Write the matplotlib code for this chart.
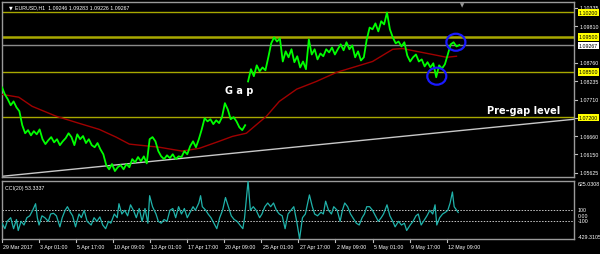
import numpy as np
import matplotlib
matplotlib.use("Agg")
import matplotlib.pyplot as plt
from matplotlib.patches import Ellipse
import matplotlib.transforms as mtransforms

plt.rcParams["font.family"] = ["Liberation Sans", "DejaVu Sans"]

# ---------------- data (hourly bars, index 0 = 29 Mar 2017) ----------------
step = 5
pre_gap_start = 0
pre_gap = [1.0806, 1.0786, 1.0772, 1.0755, 1.0766, 1.0749, 1.0738, 1.0698, 1.0675, 1.0684,
           1.0669, 1.0681, 1.0672, 1.0686, 1.0658, 1.0644, 1.0655, 1.0664, 1.0649, 1.0658,
           1.0641, 1.0652, 1.0661, 1.0675, 1.0664, 1.0641, 1.0672, 1.0658, 1.0667, 1.0647,
           1.0658, 1.0641, 1.0635, 1.0647, 1.0629, 1.0615, 1.0584, 1.0572, 1.0587, 1.0567,
           1.0578, 1.0584, 1.0572, 1.0587, 1.0578, 1.0601, 1.0592, 1.0607, 1.0595, 1.0609,
           1.0589, 1.0658, 1.0664, 1.0652, 1.0624, 1.0609, 1.0601, 1.0612, 1.0604, 1.0615,
           1.0601, 1.0609, 1.0607, 1.0624, 1.0615, 1.0638, 1.0652, 1.0635, 1.0658, 1.0686,
           1.0718, 1.0709, 1.0715, 1.0701, 1.0712, 1.0704, 1.0721, 1.0761, 1.0743, 1.0715,
           1.0721, 1.0709, 1.0692, 1.0684, 1.0698]
post_gap_start = 425
post_gap = [1.0823, 1.0858, 1.0838, 1.0869, 1.0852, 1.0863, 1.0855, 1.0892, 1.0932, 1.0949,
            1.0937, 1.0946, 1.0880, 1.0909, 1.0892, 1.0915, 1.0878, 1.0895, 1.0863, 1.0880,
            1.0858, 1.0943, 1.0900, 1.0915, 1.0886, 1.0903, 1.0895, 1.0915, 1.0906, 1.0920,
            1.0900, 1.0915, 1.0929, 1.0912, 1.0935, 1.0915, 1.0926, 1.0892, 1.0909, 1.0883,
            1.0892, 1.0943, 1.0977, 1.0972, 1.0989, 1.0966, 1.0995, 1.0986, 1.1020, 1.0972,
            1.0949, 1.0932, 1.0937, 1.0923, 1.0935, 1.0897, 1.0880, 1.0892, 1.0900, 1.0880,
            1.0886, 1.0866, 1.0878, 1.0863, 1.0875, 1.0835, 1.0869, 1.0860, 1.0872, 1.0900,
            1.0929, 1.0935, 1.0923, 1.0927]

ma_bars = [0, 29, 52, 93, 128, 168, 197, 220, 237, 272, 311, 341, 375, 398, 422, 457,
           479, 509, 543, 578, 612, 640, 675, 692, 716, 744, 768, 785]
ma_vals = [1.0786, 1.0778, 1.0752, 1.0724, 1.0706, 1.0686, 1.0664, 1.0644, 1.0641, 1.0635,
           1.0624, 1.0632, 1.0652, 1.0666, 1.0675, 1.0724, 1.0766, 1.0801, 1.0823, 1.0849,
           1.0866, 1.0880, 1.0915, 1.0917, 1.0909, 1.0900, 1.0892, 1.0895]

trend_bars = [0, 988]
trend_vals = [1.0552, 1.0715]

levels = [1.10200, 1.09500, 1.08500, 1.07200]
level_widths = [1.0, 1.8, 1.0, 1.0]
last_price = 1.09267
price_ticks = [1.10335, 1.09810, 1.08760, 1.08235, 1.07710, 1.07185, 1.06660, 1.06150, 1.05625]

cci_bars = [0, 5, 9, 15, 20, 25, 28, 33, 38, 43, 48, 53, 58, 61, 64, 69, 74, 80, 84, 89,
            94, 100, 104, 109, 113, 118, 122, 127, 133, 137, 142, 147, 154, 159, 164, 169,
            174, 179, 184, 188, 194, 199, 202, 207, 212, 217, 222, 227, 232, 237, 242, 247,
            252, 255, 260, 266, 270, 275, 280, 285, 290, 295, 300, 305, 310, 315, 320, 325,
            330, 334, 340, 343, 346, 352, 356, 361, 366, 371, 376, 381, 386, 391, 396, 401,
            406, 411, 416, 419, 425, 429, 434, 439, 445, 449, 454, 459, 464, 469, 474, 479,
            484, 489, 494, 499, 504, 509, 514, 519, 524, 531, 536, 540, 545, 551, 555, 559,
            564, 569, 573, 579, 584, 588, 592, 597, 602, 606, 612, 617, 622, 626, 630, 635,
            640, 645, 650, 655, 659, 665, 670, 675, 679, 685, 690, 695, 699, 705, 710, 715,
            719, 724, 730, 734, 739, 744, 748, 751, 756, 761, 766, 770, 774, 778, 781, 788]
cci_vals = [-142, -242, -108, -42, -242, -75, -275, -108, -175, -42, -8, 92, 212, -42, -175,
            -8, -42, -108, 25, 38, -8, -208, -42, 92, 158, 58, -8, -208, 25, -42, 92, -108,
            -175, -42, -108, -28, -175, -242, -108, -142, 25, -42, 212, 25, 92, -8, 192, 92,
            -42, 125, -108, 125, -142, 358, 158, 25, -108, -142, -75, -108, 92, 125, -42, 158,
            25, 125, -42, 58, 158, 92, 225, 358, 158, 92, 25, -42, -142, -242, -42, 92, 325,
            158, -8, -75, -108, -175, -242, -42, 625, 92, 158, 92, -42, 25, 158, 225, 158, 225,
            92, 25, -8, -242, 25, 92, 158, -108, -428, -42, 25, 372, 158, 25, -8, 58, 25, 258,
            92, 25, 158, 92, -108, 92, 225, 158, 25, -42, -142, -175, -42, 25, 158, 158, 92,
            -8, -108, -42, 25, 192, -8, -108, -208, -108, -175, -142, -275, -175, -108, -8, 25,
            -175, -75, -8, 92, 25, 192, -175, -42, 25, 58, 92, 225, 425, 158, 53.3337]
cci_levels = [100, -100]
cci_min, cci_max = -429.3105, 625.0308

date_ticks = [0, 64, 128, 192, 256, 320, 384, 448, 512, 576, 640, 704, 768]
date_labels = ["29 Mar 2017", "3 Apr 01:00", "5 Apr 17:00", "10 Apr 09:00", "13 Apr 01:00",
               "17 Apr 17:00", "20 Apr 09:00", "25 Apr 01:00", "27 Apr 17:00", "2 May 09:00",
               "5 May 01:00", "9 May 17:00", "12 May 09:00"]

circle_bars = [751, 784]
circle_prices = [1.0838, 1.0935]

# ---------------- figure ----------------
W, H = 600, 255
fig = plt.figure(figsize=(W / 100, H / 100), dpi=100, facecolor="black")

def px_rect(l, t, r, b):
    return [l / W, 1 - b / H, (r - l) / W, (b - t) / H]

ax = fig.add_axes(px_rect(2, 3, 574, 178), facecolor="black")
axc = fig.add_axes(px_rect(2, 182, 574, 240), facecolor="black")

xmax = 988
for a in (ax, axc):
    a.set_xlim(0, xmax)
    for s in a.spines.values():
        s.set_color("#9a9a9a")
        s.set_linewidth(1.0)
    a.tick_params(left=False, labelleft=False, right=False, labelright=False,
                  bottom=False, labelbottom=False)

ax.set_ylim(1.0550, 1.1050)
FS = 3.8

# horizontal levels
for lv, lw in zip(levels, level_widths):
    ax.axhline(lv, color="#a8a800", lw=lw, zorder=1)
ax.axhline(last_price, color="#8a8a8a", lw=1.0, zorder=1)

# trend line
ax.plot(trend_bars, trend_vals, color="#c8c8c8", lw=1.0, zorder=2)
# moving average
ax.plot(ma_bars, ma_vals, color="#a00000", lw=1.0, zorder=3)
# price
ax.plot(pre_gap_start + np.arange(len(pre_gap)) * step, pre_gap, color="#00ff00", lw=1.3, zorder=4)
ax.plot(post_gap_start + np.arange(len(post_gap)) * step, post_gap, color="#00ff00", lw=1.3, zorder=4)

# circles (pixel sized)
bars_per_px = xmax / 572.0
price_per_px = (1.1050 - 1.0550) / 175.0
for cb, cp in zip(circle_bars, circle_prices):
    ax.add_patch(Ellipse((cb, cp), 19 * bars_per_px, 17 * price_per_px, fill=False,
                         edgecolor="#1a1aff", lw=1.6, zorder=6))

# annotations
ax.text(410, 1.0798, "G a p", color="white", fontsize=7, fontweight="bold",
        ha="center", va="center", zorder=7, family="DejaVu Sans")
ax.text(837, 1.0741, "Pre-gap level", color="white", fontsize=7, fontweight="bold",
        ha="left", va="center", zorder=7, family="DejaVu Sans")
ax.text(0.012, 0.985, "\u25BC", color="white", fontsize=3.5, ha="left", va="top",
        transform=ax.transAxes, family="DejaVu Sans")
ax.text(0.022, 0.985, "EURUSD,H1  1.09246 1.09283 1.09226 1.09267", color="white",
        fontsize=FS, ha="left", va="top", transform=ax.transAxes)
ax.text(795, 1.0, "\u25BC", color="#9a9a9a", fontsize=4, ha="center", va="top",
        family="DejaVu Sans",
        transform=mtransforms.blended_transform_factory(ax.transData, ax.transAxes))

# right price axis
tr = mtransforms.blended_transform_factory(ax.transAxes, ax.transData)
for p in price_ticks:
    ax.plot([1.0, 1.006], [p, p], color="#c0c0c0", lw=0.8, transform=tr, clip_on=False)
    ax.text(1.01, p, f"{p:.5f}", color="white", fontsize=FS, ha="left", va="center",
            transform=tr, clip_on=False)
for lv in levels:
    ax.text(1.008, lv, f"{lv:.5f}", color="black", fontsize=FS, ha="left", va="center",
            transform=tr, clip_on=False, zorder=10,
            bbox=dict(boxstyle="square,pad=0.2", fc="#ffff00", ec="none"))
ax.text(1.008, last_price, f"{last_price:.5f}", color="black", fontsize=FS, ha="left",
        va="center", transform=tr, clip_on=False, zorder=10,
        bbox=dict(boxstyle="square,pad=0.2", fc="white", ec="none"))

# ---------------- CCI ----------------
axc.set_ylim(cci_min, cci_max)
for lv in cci_levels:
    axc.axhline(lv, color="#c8c8c8", lw=0.7, ls=(0, (1.5, 1.5)), zorder=1)
axc.plot(cci_bars, cci_vals, color="#20b2aa", lw=0.9, zorder=3)
axc.text(0.006, 0.93, "CCI(20) 53.3337", color="white", fontsize=FS, ha="left", va="top",
         transform=axc.transAxes)
trc = mtransforms.blended_transform_factory(axc.transAxes, axc.transData)
axc.text(1.006, cci_max, f"{cci_max:.4f}", color="white", fontsize=FS, ha="left", va="top",
         transform=trc, clip_on=False)
axc.text(1.006, cci_min, f"{cci_min:.4f}", color="white", fontsize=FS, ha="left", va="bottom",
         transform=trc, clip_on=False)
for v, s in [(100, "100"), (0, "0.00"), (-100, "-100")]:
    axc.text(1.006, v, s, color="white", fontsize=FS, ha="left", va="center",
             transform=trc, clip_on=False)

# date axis
trd = mtransforms.blended_transform_factory(axc.transData, axc.transAxes)
for b, lab in zip(date_ticks, date_labels):
    axc.plot([b, b], [0, -0.05], color="#c0c0c0", lw=0.8, transform=trd, clip_on=False)
    axc.text(b + 2, -0.08, lab, color="white", fontsize=FS, ha="left", va="top",
             transform=trd, clip_on=False)

fig.savefig("out.png", dpi=100, facecolor="black")
